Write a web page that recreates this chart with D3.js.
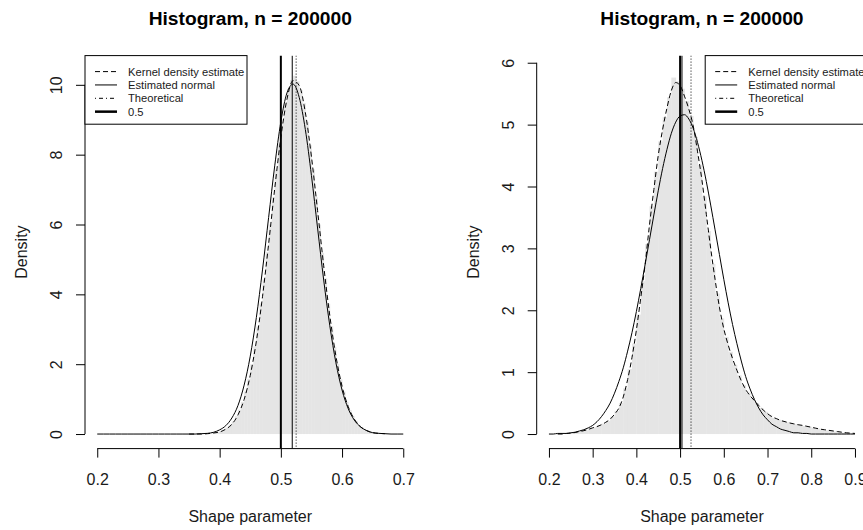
<!DOCTYPE html>
<html>
<head>
<meta charset="utf-8">
<script src="https://cdnjs.cloudflare.com/ajax/libs/d3/7.8.5/d3.min.js"></script>
<style>
  html, body { margin: 0; padding: 0; background: #fff; }
  svg { display: block; font-family: "Liberation Sans", Arial, Helvetica, sans-serif; }
</style>
</head>
<body>
<div id="chart"></div>
<script>
'use strict';

/* Two histograms of the shape parameter estimate, with kernel density,
   fitted normal and reference lines. */

const chartTitle = 'Histogram, n = 200000';
const xLabel = 'Shape parameter';
const yLabel = 'Density';
const legendLabels = ['Kernel density estimate', 'Estimated normal', 'Theoretical', '0.5'];

// ---- left panel ----
const leftXlim = [0.2, 0.7];
const leftYlim = [0, 10.42];
const leftXTicks = [0.2, 0.3, 0.4, 0.5, 0.6, 0.7];
const leftYTicks = [0, 2, 4, 6, 8, 10];

// histogram bins start at 0.350, width 0.005
const leftHistStart = 0.35;
const leftHistWidth = 0.005;
const leftHist = [
  0.00, 0.00, 0.00, 0.00, 0.01, 0.01, 0.02, 0.02, 0.04, 0.06,
  0.08, 0.13, 0.18, 0.27, 0.36, 0.51, 0.70, 0.92, 1.22, 1.58,
  2.00, 2.51, 3.08, 3.74, 4.43, 5.21, 6.00, 6.78, 7.57, 8.30,
  8.92, 9.47, 9.88, 10.14, 10.26, 10.10, 9.85, 9.48, 8.94, 8.27,
  7.58, 6.78, 6.00, 5.19, 4.46, 3.73, 3.09, 2.50, 2.01, 1.57,
  1.22, 0.92, 0.69, 0.51, 0.37, 0.26, 0.18, 0.13, 0.09, 0.06,
  0.04, 0.02, 0.02, 0.01
];

// estimated normal, x = 0.20 .. 0.70 by 0.01
const leftNormalX = d3.range(20, 71).map(i => i / 100);
const leftNormal = [
  0, 0, 0, 0, 0, 0, 0, 0, 0, 0, 0, 0, 0, 0, 0,
  0.00, 0.00, 0.01, 0.02, 0.05, 0.12, 0.24, 0.46, 0.82, 1.40,
  2.23, 3.34, 4.70, 6.20, 7.68, 8.94, 9.77, 10.02, 9.64, 8.72,
  7.40, 5.90, 4.41, 3.10, 2.04, 1.26, 0.73, 0.40, 0.21, 0.10,
  0.04, 0.02, 0.01, 0, 0, 0
];

// kernel density, x = 0.35 .. 0.67 by 0.01
const leftKdeX = d3.range(35, 68).map(i => i / 100);
const leftKde = [
  0.00, 0.00, 0.00, 0.01, 0.03, 0.06, 0.14, 0.28, 0.55, 0.99,
  1.68, 2.66, 3.93, 5.44, 7.03, 8.49, 9.59, 10.12, 9.98, 9.21,
  7.94, 6.40, 4.82, 3.39, 2.23, 1.37, 0.79, 0.43, 0.21, 0.10,
  0.04, 0.02, 0.01
];

const leftEstMean = 0.5186;

// ---- right panel ----
const rightXlim = [0.2, 0.9];
const rightYlim = [0, 5.88];
const rightXTicks = [0.2, 0.3, 0.4, 0.5, 0.6, 0.7, 0.8, 0.9];
const rightYTicks = [0, 1, 2, 3, 4, 5, 6];

// histogram bins start at 0.22, width 0.01
const rightHistStart = 0.22;
const rightHistWidth = 0.01;
const rightHist = [
  0.00, 0.01, 0.01, 0.02, 0.03, 0.05, 0.06, 0.09, 0.11, 0.14,
  0.17, 0.21, 0.28, 0.37, 0.50, 0.74, 1.05, 1.46, 1.93, 2.47,
  3.07, 3.68, 4.24, 4.73, 5.12, 5.44, 5.76, 5.70, 5.58, 5.38,
  5.14, 4.80, 4.35, 3.84, 3.28, 2.75, 2.27, 1.87, 1.57, 1.33,
  1.12, 0.95, 0.79, 0.67, 0.58, 0.50, 0.42, 0.36, 0.31, 0.26,
  0.23, 0.21, 0.19, 0.17, 0.16, 0.14, 0.13, 0.12, 0.10, 0.09,
  0.07, 0.06, 0.05, 0.04, 0.03, 0.02, 0.02, 0.01
];

// estimated normal, x = 0.20 .. 0.90 by 0.01
const rightNormalX = d3.range(20, 91).map(i => i / 100);
const rightNormal = [
  0.00, 0.00, 0.01, 0.01, 0.01, 0.02, 0.03, 0.05, 0.07, 0.10,
  0.14, 0.20, 0.28, 0.38, 0.50, 0.66, 0.85, 1.07, 1.34, 1.64,
  1.98, 2.35, 2.74, 3.14, 3.54, 3.93, 4.29, 4.60, 4.86, 5.04,
  5.14, 5.16, 5.09, 4.94, 4.71, 4.42, 4.08, 3.70, 3.30, 2.90,
  2.50, 2.12, 1.77, 1.46, 1.18, 0.93, 0.73, 0.56, 0.42, 0.31,
  0.23, 0.16, 0.12, 0.08, 0.06, 0.04, 0.02, 0.02, 0.01, 0.01,
  0, 0, 0, 0, 0, 0, 0, 0, 0, 0, 0
];

// kernel density, x = 0.22 .. 0.90 by 0.01
const rightKdeX = d3.range(22, 91).map(i => i / 100);
const rightKde = [
  0.00, 0.00, 0.01, 0.015, 0.025, 0.04, 0.055, 0.075, 0.10, 0.12,
  0.15, 0.19, 0.24, 0.32, 0.42, 0.60, 0.88, 1.24, 1.68, 2.20,
  2.74, 3.38, 3.95, 4.50, 4.92, 5.27, 5.55, 5.68, 5.63, 5.46,
  5.25, 4.98, 4.56, 4.10, 3.55, 3.00, 2.50, 2.05, 1.70, 1.44,
  1.22, 1.03, 0.86, 0.72, 0.62, 0.54, 0.46, 0.39, 0.33, 0.28,
  0.25, 0.22, 0.20, 0.18, 0.165, 0.15, 0.14, 0.125, 0.11, 0.095,
  0.08, 0.07, 0.06, 0.05, 0.04, 0.03, 0.02, 0.015, 0.01
];

const rightEstMean = 0.5043;

// shared reference lines
const theoreticalValue = 0.525;
const referenceValue = 0.5;

// ---- layout ----
const W = 863, H = 530;
const panelWidth = 451.7;
const plotLeft = 85, plotRightGap = 36.2;
const plotTop = 55.6, plotBottom = 448.6;
const textColor = '#1a1a1a';
const histFill = '#e5e5e5';

const svg = d3.select('#chart').append('svg')
    .attr('width', W)
    .attr('height', H);

// R style axis range: data range widened by 4% on each side
function rRange(lim){
    const ext = (lim[1] - lim[0]) * 0.04;
    return [lim[0] - ext, lim[1] + ext];
}

function drawPanel(p, idx){

    const x0 = idx * panelWidth + plotLeft;
    const x1 = (idx + 1) * panelWidth - plotRightGap;

    const x = d3.scaleLinear().domain(rRange(p.xlim)).range([x0, x1]);
    const y = d3.scaleLinear().domain(rRange(p.ylim)).range([plotBottom, plotTop]);

    const g = svg.append('g');

    const clipId = 'clip' + idx;
    g.append('clipPath').attr('id', clipId)
        .append('rect')
        .attr('x', x0).attr('y', plotTop)
        .attr('width', x1 - x0).attr('height', plotBottom - plotTop);

    const plot = g.append('g').attr('clip-path', `url(#${clipId})`);

    // histogram (no borders)
    const bins = p.hist.map((v, i) => ({
        lo: p.histStart + i * p.histWidth,
        hi: p.histStart + (i + 1) * p.histWidth,
        v: v
    }));
    plot.selectAll('rect.bar')
        .data(bins)
        .join('rect')
        .classed('bar', true)
        .attr('x', d => x(d.lo))
        .attr('width', d => x(d.hi) - x(d.lo) + 0.4)
        .attr('y', d => y(d.v))
        .attr('height', d => y(0) - y(d.v))
        .attr('fill', histFill);

    const line = d3.line()
        .x(d => x(d[0]))
        .y(d => y(d[1]))
        .curve(d3.curveMonotoneX);

    // kernel density (dashed)
    plot.append('path')
        .datum(p.kdeX.map((v, i) => [v, p.kde[i]]))
        .attr('d', line)
        .attr('fill', 'none')
        .attr('stroke', '#000')
        .attr('stroke-width', 1)
        .attr('stroke-dasharray', '5,3');

    // estimated normal (solid)
    plot.append('path')
        .datum(p.normalX.map((v, i) => [v, p.normal[i]]))
        .attr('d', line)
        .attr('fill', 'none')
        .attr('stroke', '#000')
        .attr('stroke-width', 1);

    // vertical reference lines
    const vlines = [
        { v: referenceValue, w: 2, dash: null },
        { v: p.estMean, w: 1, dash: null },
        { v: theoreticalValue, w: 1, dash: '1,2' }
    ];
    plot.selectAll('line.vline')
        .data(vlines)
        .join('line')
        .classed('vline', true)
        .attr('x1', d => x(d.v)).attr('x2', d => x(d.v))
        .attr('y1', plotTop).attr('y2', plotBottom)
        .attr('stroke', '#000')
        .attr('stroke-width', d => d.w)
        .attr('stroke-dasharray', d => d.dash);

    // x axis, line only between first and last tick like R
    const xAxis = g.append('g')
        .attr('transform', `translate(0,${plotBottom})`)
        .call(d3.axisBottom(x).tickValues(p.xTicks).tickFormat(d3.format('.1f'))
            .tickSize(9).tickPadding(0));
    xAxis.select('.domain').remove();
    xAxis.append('line')
        .attr('x1', x(p.xTicks[0])).attr('x2', x(p.xTicks[p.xTicks.length - 1]))
        .attr('stroke', '#000');
    xAxis.selectAll('.tick line').attr('stroke', '#000');
    xAxis.selectAll('.tick text')
        .attr('y', 36.5)
        .attr('dy', null)
        .attr('fill', textColor)
        .style('font-size', '16px')
        .style('font-family', 'inherit');

    // y axis with rotated labels
    const yAxis = g.append('g')
        .attr('transform', `translate(${x0},0)`)
        .call(d3.axisLeft(y).tickValues(p.yTicks).tickFormat(d3.format('d')).tickSize(9));
    yAxis.select('.domain').remove();
    yAxis.append('line')
        .attr('y1', y(p.yTicks[0])).attr('y2', y(p.yTicks[p.yTicks.length - 1]))
        .attr('stroke', '#000');
    yAxis.selectAll('.tick line').attr('stroke', '#000');
    yAxis.selectAll('.tick text')
        .attr('x', null).attr('dy', null)
        .attr('transform', 'translate(-23,0) rotate(-90)')
        .attr('text-anchor', 'middle')
        .attr('fill', textColor)
        .style('font-size', '16px')
        .style('font-family', 'inherit');

    // title and axis titles
    const cx = (x0 + x1) / 2;
    g.append('text')
        .attr('x', cx).attr('y', 25)
        .attr('text-anchor', 'middle')
        .attr('font-weight', 'bold')
        .attr('font-size', 19.2)
        .attr('fill', '#000')
        .text(chartTitle);

    g.append('text')
        .attr('x', cx).attr('y', plotBottom + 73.5)
        .attr('text-anchor', 'middle')
        .attr('font-size', 16)
        .attr('fill', textColor)
        .text(xLabel);

    g.append('text')
        .attr('transform', `translate(${x0 - 58},${(plotTop + plotBottom) / 2}) rotate(-90)`)
        .attr('text-anchor', 'middle')
        .attr('font-size', 16)
        .attr('fill', textColor)
        .text(yLabel);

    // legend box
    const lw = 162, lh = 68.6;
    const lx = p.legendRight ? x1 - lw : x0;
    const ly = plotTop;
    const leg = g.append('g').attr('transform', `translate(${lx},${ly})`);
    leg.append('rect')
        .attr('x', 0).attr('y', 0)
        .attr('width', lw).attr('height', lh)
        .attr('fill', '#fff')
        .attr('stroke', '#000')
        .attr('stroke-width', 1);

    const styles = [
        { w: 1, dash: '5,3' },
        { w: 1, dash: null },
        { w: 1, dash: '1,3,4,3' },
        { w: 2.5, dash: null }
    ];
    const rows = leg.selectAll('g.item')
        .data(legendLabels)
        .join('g')
        .classed('item', true)
        .attr('transform', (d, i) => `translate(0,${16 + i * 13.35})`);
    rows.append('line')
        .attr('x1', 10).attr('x2', 32)
        .attr('stroke', '#000')
        .attr('stroke-width', (d, i) => styles[i].w)
        .attr('stroke-dasharray', (d, i) => styles[i].dash);
    rows.append('text')
        .attr('x', 43).attr('y', 4)
        .attr('font-size', 11.2)
        .attr('fill', textColor)
        .text(d => d);
}

const panels = [
    {
        xlim: leftXlim, ylim: leftYlim, xTicks: leftXTicks, yTicks: leftYTicks,
        hist: leftHist, histStart: leftHistStart, histWidth: leftHistWidth,
        normalX: leftNormalX, normal: leftNormal,
        kdeX: leftKdeX, kde: leftKde,
        estMean: leftEstMean, legendRight: false
    },
    {
        xlim: rightXlim, ylim: rightYlim, xTicks: rightXTicks, yTicks: rightYTicks,
        hist: rightHist, histStart: rightHistStart, histWidth: rightHistWidth,
        normalX: rightNormalX, normal: rightNormal,
        kdeX: rightKdeX, kde: rightKde,
        estMean: rightEstMean, legendRight: true
    }
];

panels.forEach((p, i) => drawPanel(p, i));
</script>
</body>
</html>
